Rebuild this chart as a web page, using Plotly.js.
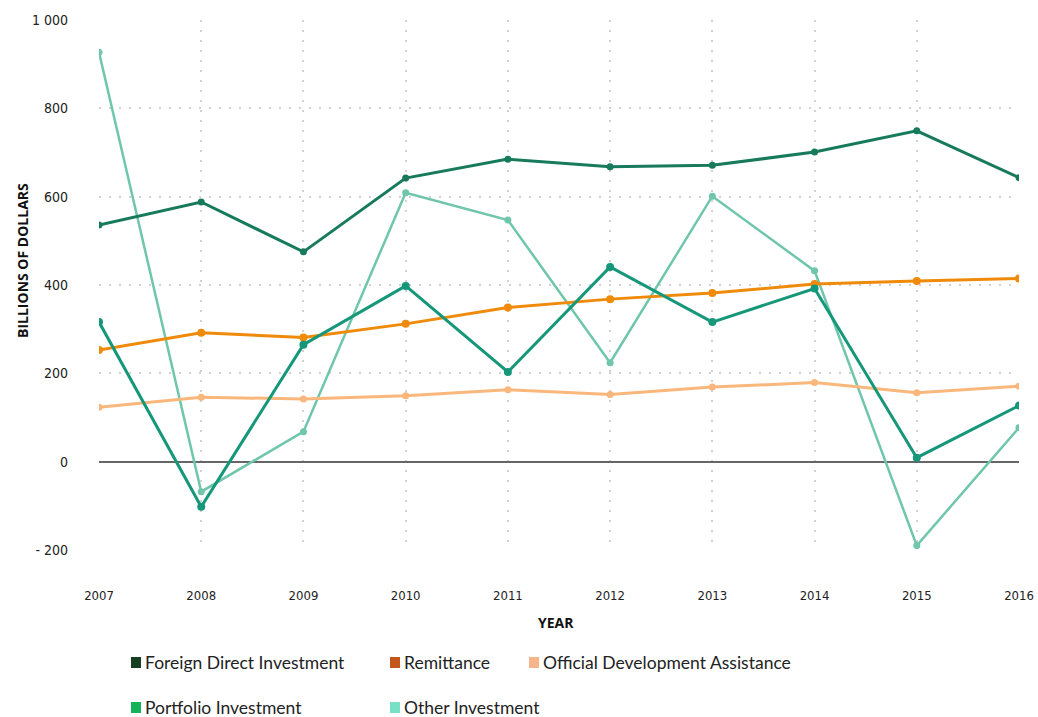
<!DOCTYPE html>
<html>
<head>
<meta charset="utf-8">
<script src="https://cdn.plot.ly/plotly-3.0.1.min.js"></script>
<style>html,body{margin:0;padding:0;background:#fff}#chart{width:1038px;height:717px}</style>
</head>
<body>
<div id="chart"></div>
<script>
const years = [2007, 2008, 2009, 2010, 2011, 2012, 2013, 2014, 2015, 2016];
const fdi = [536, 588, 475, 642, 685, 668, 671, 701, 749, 643];
const remittance = [253, 292, 281, 312, 349, 368, 382, 402, 409, 415];
const oda = [123, 146, 142, 149, 163, 152, 169, 179, 156, 171];
const portfolio = [316, -102, 265, 398, 203, 441, 316, 392, 9, 127];
const other = [927, -68, 68, 609, 547, 224, 601, 432, -190, 77];
const yTickVals = [-200, 0, 200, 400, 600, 800, 1000];
const yTickText = ['- 200', '0', '200', '400', '600', '800', '1 000'];
const legendNames = ['Foreign Direct Investment', 'Remittance', 'Official Development Assistance', 'Portfolio Investment', 'Other Investment'];
const legendColors = ['#173f22', '#c3561a', '#f5b48a', '#15b25a', '#78e0c4'];

const narrow = '"DejaVu Sans Condensed", "DejaVu Sans", sans-serif';

function series(y, color, width, msize) {
  return {
    x: years, y: y, type: 'scatter', mode: 'lines+markers',
    line: {color: color, width: width},
    marker: {color: color, size: msize},
    showlegend: false, hoverinfo: 'x+y'
  };
}
const data = [
  series(other, '#6fc6ab', 2.5, 7),
  series(oda, '#f9b77c', 3, 7),
  series(remittance, '#f08a0a', 3, 8),
  series(portfolio, '#16977a', 3, 8),
  series(fdi, '#167a5b', 3, 7)
];

const legendPos = [[131, 662], [390, 662], [529, 662], [131, 707], [390, 707]];
const W = 1038, H = 717;
const shapes = [];
const annotations = [];
legendPos.forEach((p, i) => {
  shapes.push({type: 'rect', xref: 'paper', yref: 'paper',
    x0: (p[0] - 99) / 920, x1: (p[0] - 99 + 10) / 920,
    y0: (550 - (p[1] + 6)) / 530, y1: (550 - (p[1] - 5)) / 530,
    fillcolor: legendColors[i], line: {width: 0}});
  annotations.push({xref: 'paper', yref: 'paper', x: (p[0] - 99 + 12) / 920, y: (550 - p[1]) / 530,
    xanchor: 'left', yanchor: 'middle', showarrow: false, text: legendNames[i],
    font: {family: 'Lato, "Open Sans", sans-serif', size: 17.5, color: '#222'}});
});
annotations.push({xref: 'paper', yref: 'paper', x: (22 - 99) / 920, y: (550 - 261) / 530,
  xanchor: 'center', yanchor: 'middle', showarrow: false, textangle: -90,
  text: '<b>BILLIONS OF DOLLARS</b>', font: {family: '"Open Sans", sans-serif', size: 14, color: '#111'}});
annotations.push({xref: 'paper', yref: 'paper', x: (556 - 99) / 920, y: (550 - 622) / 530,
  xanchor: 'center', yanchor: 'middle', showarrow: false,
  text: '<b>YEAR</b>', font: {family: '"Open Sans", sans-serif', size: 14, color: '#111'}});

const layout = {
  width: W, height: H,
  margin: {l: 99, r: 19, t: 20, b: 167},
  paper_bgcolor: '#fff', plot_bgcolor: '#fff',
  xaxis: {
    range: [2007, 2016], tickvals: years, ticktext: years.map(String),
    showgrid: true, gridcolor: '#d2d2d2', gridwidth: 2, griddash: '2px,8px',
    zeroline: false, showline: false, ticks: '', ticklabelstandoff: 36,
    tickfont: {family: narrow, size: 13, color: '#222', stretch: 'condensed'}
  },
  yaxis: {
    range: [-200, 1000], tickvals: yTickVals, ticktext: yTickText,
    showgrid: true, gridcolor: '#d2d2d2', gridwidth: 2, griddash: '2px,8px',
    zeroline: true, zerolinecolor: '#666', zerolinewidth: 1.5,
    showline: false, ticks: '', ticklabelstandoff: 30,
    tickfont: {family: narrow, size: 14, color: '#222', stretch: 'condensed'}
  },
  shapes: shapes,
  annotations: annotations,
  showlegend: false
};
Plotly.newPlot('chart', data, layout, {displayModeBar: false});
</script>
</body>
</html>
